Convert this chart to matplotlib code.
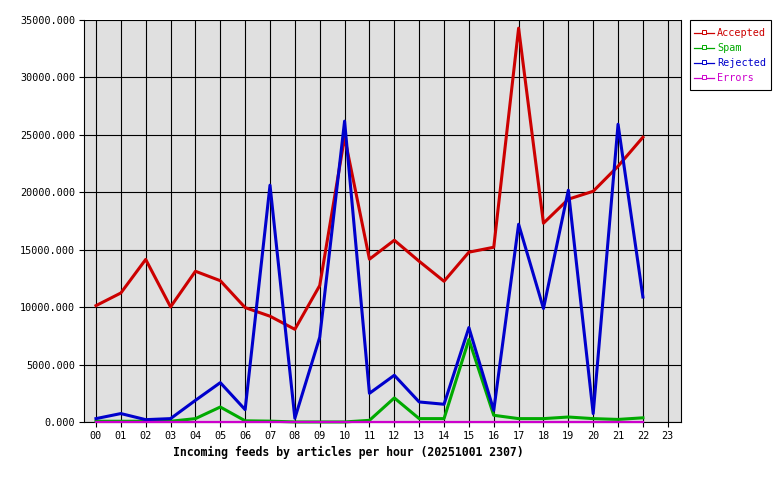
import numpy as np
import matplotlib
matplotlib.use('Agg')
import matplotlib.pyplot as plt
from matplotlib.lines import Line2D
from matplotlib.patches import Rectangle

# Hours of the day and per-hour article counts
hours = ['00', '01', '02', '03', '04', '05', '06', '07', '08', '09', '10', '11',
         '12', '13', '14', '15', '16', '17', '18', '19', '20', '21', '22', '23']
accepted = [10150, 11250, 14170, 10040, 13140, 12320, 9980, 9230, 8090, 11900,
            24800, 14190, 15840, 14010, 12270, 14800, 15230, 34290, 17320,
            19410, 20100, 22280, 24800]
spam = [90, 90, 90, 90, 320, 1330, 130, 100, 30, 30, 30, 170, 2120, 320,
        320, 7200, 610, 320, 320, 460, 320, 250, 390]
rejected = [320, 760, 230, 320, 1910, 3450, 1100, 20630, 350, 7400, 26200,
            2520, 4090, 1770, 1570, 8240, 1040, 17230, 9900, 20190, 760,
            25930, 10900]
errors = [40] * 23

series = [('Accepted', accepted, '#cc0000', 2.2),
          ('Spam', spam, '#00aa00', 2.2),
          ('Rejected', rejected, '#0000cc', 2.2),
          ('Errors', errors, '#cc00cc', 1.6)]

plt.rcParams['font.family'] = 'DejaVu Sans Mono'

W, H = 780, 480
fig = plt.figure(figsize=(W/100, H/100), dpi=100)
ax = fig.add_axes([84.3/W, 1-422.3/H, (680.7-84.3)/W, (422.3-20)/H])
ax.set_facecolor('#e0e0e0')

x = np.arange(len(hours))
for i, (name, vals, col, lw) in enumerate(series):
    ax.plot(x[:len(vals)], vals, color=col, lw=lw, clip_on=False, zorder=3+i)

ax.set_xlim(-0.47, 23.52)
ax.set_ylim(0, 35000)
ax.set_xticks(x)
ax.set_xticklabels(hours)
yt = np.arange(0, 35001, 5000)
ax.set_yticks(yt)
ax.set_yticklabels(['%.3f' % v for v in yt])
ax.grid(True, color='black', lw=0.8)
ax.set_axisbelow(True)
ax.tick_params(direction='out', length=3.5, width=0.8, labelsize=7.3,
               colors='black', pad=3)
for s in ['left', 'bottom', 'right']:
    ax.spines[s].set_color('black')
    ax.spines[s].set_linewidth(0.8)
    ax.spines[s].set_zorder(2.5)
ax.spines['top'].set_visible(False)

fig.text(348/W, 1-452/H, 'Incoming feeds by articles per hour (20251001 2307)',
         ha='center', va='center', fontsize=8.3, fontweight='bold')

# legend box drawn by hand to match the fixed-pixel layout
fig.patches.append(Rectangle((690/W, 1-90/H), 81/W, 70/H, transform=fig.transFigure,
                             facecolor='white', edgecolor='black', lw=0.8))
for i, (name, _, col, _) in enumerate(series):
    yy = 1 - (33 + 15*i)/H
    fig.lines.append(Line2D([694/W, 714/W], [yy, yy], transform=fig.transFigure,
                            color=col, lw=0.9))
    fig.lines.append(Line2D([704/W], [yy + 1/H], transform=fig.transFigure,
                            color=col, marker='s', markersize=2.2,
                            markerfacecolor='white', markeredgewidth=0.7))
    fig.text(717/W, yy, name, color=col, fontsize=7.3, ha='left', va='center')

fig.savefig('out.png', dpi=100)
